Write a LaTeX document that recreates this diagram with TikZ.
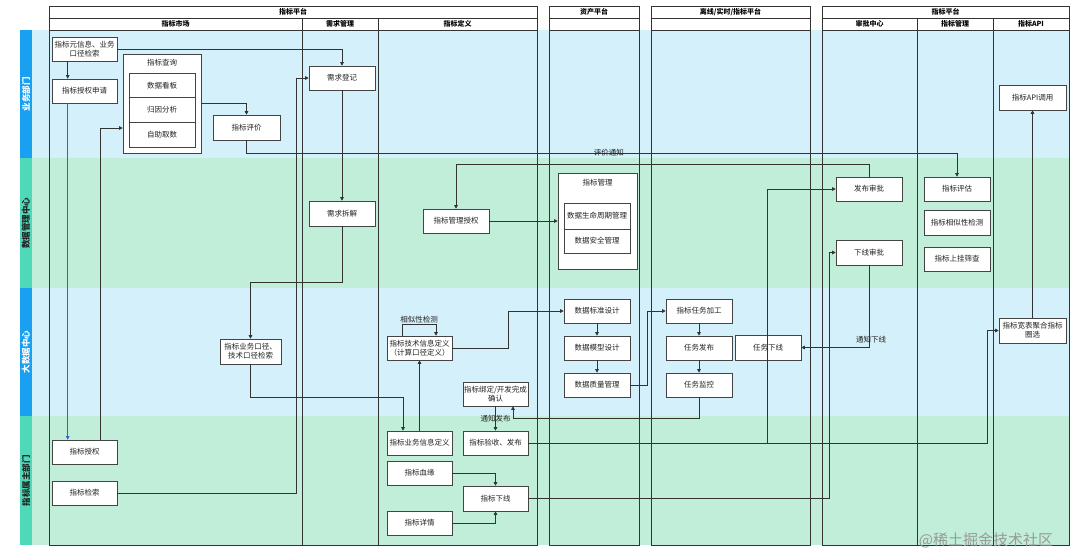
\documentclass[tikz,border=0pt]{standalone}
\usepackage{fontspec}
\setmainfont{Noto Sans CJK SC}
\usetikzlibrary{arrows.meta}
\definecolor{laneblue}{HTML}{D4F0FB}
\definecolor{lanegreen}{HTML}{C1EED8}
\definecolor{barblue}{HTML}{1AA0F0}
\definecolor{barteal}{HTML}{50D9B9}
\definecolor{linec}{HTML}{333333}
\definecolor{boxc}{HTML}{444444}
\definecolor{txt}{HTML}{222222}
\definecolor{bluearrow}{HTML}{3B5BDB}
\newcommand{\mybox}[6]{\node[box, minimum width={(#4)-(#2)}, minimum height={(#5)-(#3)}] (#1) at ({((#2)+(#4))/2},{((#3)+(#5))/2}) {#6};}
\newcommand{\myhdr}[6]{\node[hdr, minimum width={(#4)-(#2)}, minimum height={(#5)-(#3)}] (#1) at ({((#2)+(#4))/2},{((#3)+(#5))/2}) {#6};}
\begin{document}
\begin{tikzpicture}[x=1pt,y=-1pt,
  box/.style={draw=boxc, fill=white, line width=0.6pt, inner sep=0pt, align=center, text=txt, font=\fontsize{7.5}{9}\selectfont},
  hdr/.style={draw=linec, fill=white, line width=0.6pt, inner sep=0pt, text=black, font=\bfseries\fontsize{7}{8}\selectfont},
  pool/.style={draw=linec, line width=0.6pt},
  conn/.style={draw=linec, line width=0.6pt, -{Triangle[length=3.5pt,width=3.5pt]}},
  lbl/.style={font=\fontsize{7.5}{9}\selectfont, text=txt, inner sep=1pt},
  lanelbl/.style={font=\bfseries\fontsize{8.5}{10}\selectfont, rotate=90, inner sep=0pt}]
\useasboundingbox (0,0) rectangle (1080,555);
\fill[white] (0,0) rectangle (1080,555);
% lane backgrounds
\fill[laneblue] (32,30) rectangle (1069,158);
\fill[lanegreen] (32,158) rectangle (1069,288);
\fill[laneblue] (32,288) rectangle (1069,416);
\fill[lanegreen] (32,416) rectangle (1069,545);
\fill[barblue] (20,30) rectangle (32,158);
\fill[barteal] (20,158) rectangle (32,288);
\fill[barblue] (20,288) rectangle (32,416);
\fill[barteal] (20,416) rectangle (32,545);
\node[lanelbl, text=white] (l1) at (26,94) {业务部门};
\node[lanelbl, text=txt] (l2) at (26,223) {数据管理中心};
\node[lanelbl, text=white] (l3) at (26,352) {大数据中心};
\node[lanelbl, text=txt] (l4) at (26,480.5) {指标属主部门};
% pools
\draw[pool] (49,6) rectangle (537,545);
\draw[pool] (302,30) -- (302,545);
\draw[pool] (378,30) -- (378,545);
\myhdr{p1t}{49}{6}{537}{18}{指标平台}
\myhdr{p1a}{49}{18}{302}{30}{指标市场}
\myhdr{p1b}{302}{18}{378}{30}{需求管理}
\myhdr{p1c}{378}{18}{537}{30}{指标定义}
\draw[pool] (549,6) rectangle (639,545);
\myhdr{p2t}{549}{6}{639}{18}{资产平台}
\myhdr{p2a}{549}{18}{639}{30}{}
\draw[pool] (651,6) rectangle (810,545);
\myhdr{p3t}{651}{6}{810}{18}{离线/实时/指标平台}
\myhdr{p3a}{651}{18}{810}{30}{}
\draw[pool] (822,6) rectangle (1069,545);
\draw[pool] (917,30) -- (917,545);
\draw[pool] (993,30) -- (993,545);
\myhdr{p4t}{822}{6}{1069}{18}{指标平台}
\myhdr{p4a}{822}{18}{917}{30}{审批中心}
\myhdr{p4b}{917}{18}{993}{30}{指标管理}
\myhdr{p4c}{993}{18}{1069}{30}{指标API}
% lane 1 boxes
\mybox{n1}{52}{37}{117}{61}{指标元信息、业务\\口径检索}
\mybox{n2}{52}{79}{117}{103}{指标授权申请}
\mybox{grp}{123}{54}{201}{153}{}
\node[lbl] (grpt) at (162,63) {指标查询};
\mybox{q1}{129}{73}{195}{97.7}{数据看板}
\mybox{q2}{129}{97.7}{195}{122.3}{归因分析}
\mybox{q3}{129}{122.3}{195}{147}{自助取数}
\mybox{pj}{213}{115}{280}{140}{指标评价}
\mybox{xqdj}{309}{66}{375}{90}{需求登记}
\mybox{api}{999}{85}{1066}{110}{指标API调用}
% lane 2 boxes
\mybox{cj}{309}{201}{375}{226}{需求拆解}
\mybox{glsq}{423}{209}{489}{233}{指标管理授权}
\mybox{grp2}{558}{173}{637}{269}{}
\node[lbl] (grp2t) at (597.5,183) {指标管理};
\mybox{m1}{564}{203}{630}{229}{数据生命周期管理}
\mybox{m2}{564}{229}{630}{253}{数据安全管理}
\mybox{fb}{836}{177}{902}{201}{发布审批}
\mybox{xs}{836}{240}{902}{265}{下线审批}
\mybox{pg}{924}{177}{990}{201}{指标评估}
\mybox{xsx}{924}{210}{990}{235}{指标相似性检测}
\mybox{sg}{924}{247}{990}{271}{指标上挂筛查}
% lane 3 boxes
\mybox{kj}{220}{339}{281}{364}{指标业务口径、\\技术口径检索}
\mybox{jsdy}{387}{336}{452}{360}{指标技术信息定义\\（计算口径定义）}
\mybox{bd}{463}{382}{528}{406}{指标绑定/开发完成\\确认}
\mybox{bz}{564}{299}{630}{323}{数据标准设计}
\mybox{mx}{564}{336}{630}{360}{数据模型设计}
\mybox{zl}{564}{373}{630}{397}{数据质量管理}
\mybox{rw1}{666}{299}{732}{323}{指标任务加工}
\mybox{rw2}{666}{336}{732}{360}{任务发布}
\mybox{rw3}{666}{373}{732}{397}{任务监控}
\mybox{rwxx}{735}{335}{801}{360}{任务下线}
\mybox{kb}{999}{318}{1066}{343}{指标宽表聚合指标\\圈选}
% lane 4 boxes
\mybox{sq}{52}{440}{117}{464}{指标授权}
\mybox{js}{52}{481}{117}{505}{指标检索}
\mybox{ywdy}{387}{431}{452}{455}{指标业务信息定义}
\mybox{ys}{463}{431}{528}{455}{指标验收、发布}
\mybox{xy}{387}{461}{452}{485}{指标血缘}
\mybox{xx}{463}{486}{528}{511}{指标下线}
\mybox{xq}{387}{511}{452}{535}{指标详情}
% connectors
\draw[conn] (n1.east) -| (xqdj.north);
\draw[conn] ([xshift=16pt]n1.south west) -- ([xshift=16pt]n2.north west);
\draw[conn, draw=bluearrow] ([xshift=16pt]n2.south west) -- ([xshift=16pt]sq.north west);
\draw[conn] (grp.east) -| (pj.north);
\draw[conn] ([xshift=49pt]sq.north west) |- ([yshift=-24.5pt]grp.west);
\draw[conn] (pj.south) -- (246.5,153) -- node[lbl, pos=0.51] (pjtz) {评价通知} (957,153) -- (pg.north);
\draw[conn] (js.east) -- (296.5,493) |- (xqdj.west);
\draw[conn] (xqdj.south) -- (cj.north);
\draw[conn] (cj.south) -- (342,282) -| (kj.north);
\draw[conn] (kj.south) -- (250.5,397) -| ([xshift=-16.5pt]ywdy.north);
\draw[conn] (ywdy.north) -- (jsdy.south);
\draw[conn] ([xshift=-17.5pt]jsdy.north) -- ([xshift=-17.5pt,yshift=11pt]jsdy.north) -- node[lbl, above] (xsjc) {相似性检测} ([xshift=16.5pt,yshift=11pt]jsdy.north) -- ([xshift=16.5pt]jsdy.north);
\draw[conn] (jsdy.east) -- (508,348) |- (bz.west);
\draw[conn] (bz.south) -- (mx.north);
\draw[conn] (mx.south) -- (zl.north);
\draw[conn] (zl.east) -- (647,385) |- (rw1.west);
\draw[conn] (rw1.south) -- (rw2.north);
\draw[conn] (rw2.south) -- (rw3.north);
\draw[conn] (rw3.south) -- (699,418) -| ([xshift=17.5pt]bd.south);
\draw[conn] (bd.south) -- node[lbl, pos=0.5] (tzfb) {通知发布} (ys.north);
\draw[conn] (ys.east) -- (767,443) |- (fb.west);
\draw[conn] (ys.east) -- (987,443) |- (kb.west);
\draw[conn] (fb.north) -- (869,164) -| (glsq.north);
\draw[conn] (glsq.east) -- (grp2.west);
\draw[conn] (xx.east) -- (829,498.5) |- (xs.west);
\draw[conn] (xs.south) |- (rwxx.east);
\node[lbl] (tzxx) at (871,340) {通知下线};
\draw[conn] (xy.east) -| (xx.north);
\draw[conn] (xq.east) -| (xx.south);
\draw[conn] (kb.north) -- (api.south);
% watermark
\node[font=\fontsize{15}{15}\selectfont, text=black!40, inner sep=0pt] (wm) at (986,540) {@稀土掘金技术社区};
\end{tikzpicture}
\end{document}
